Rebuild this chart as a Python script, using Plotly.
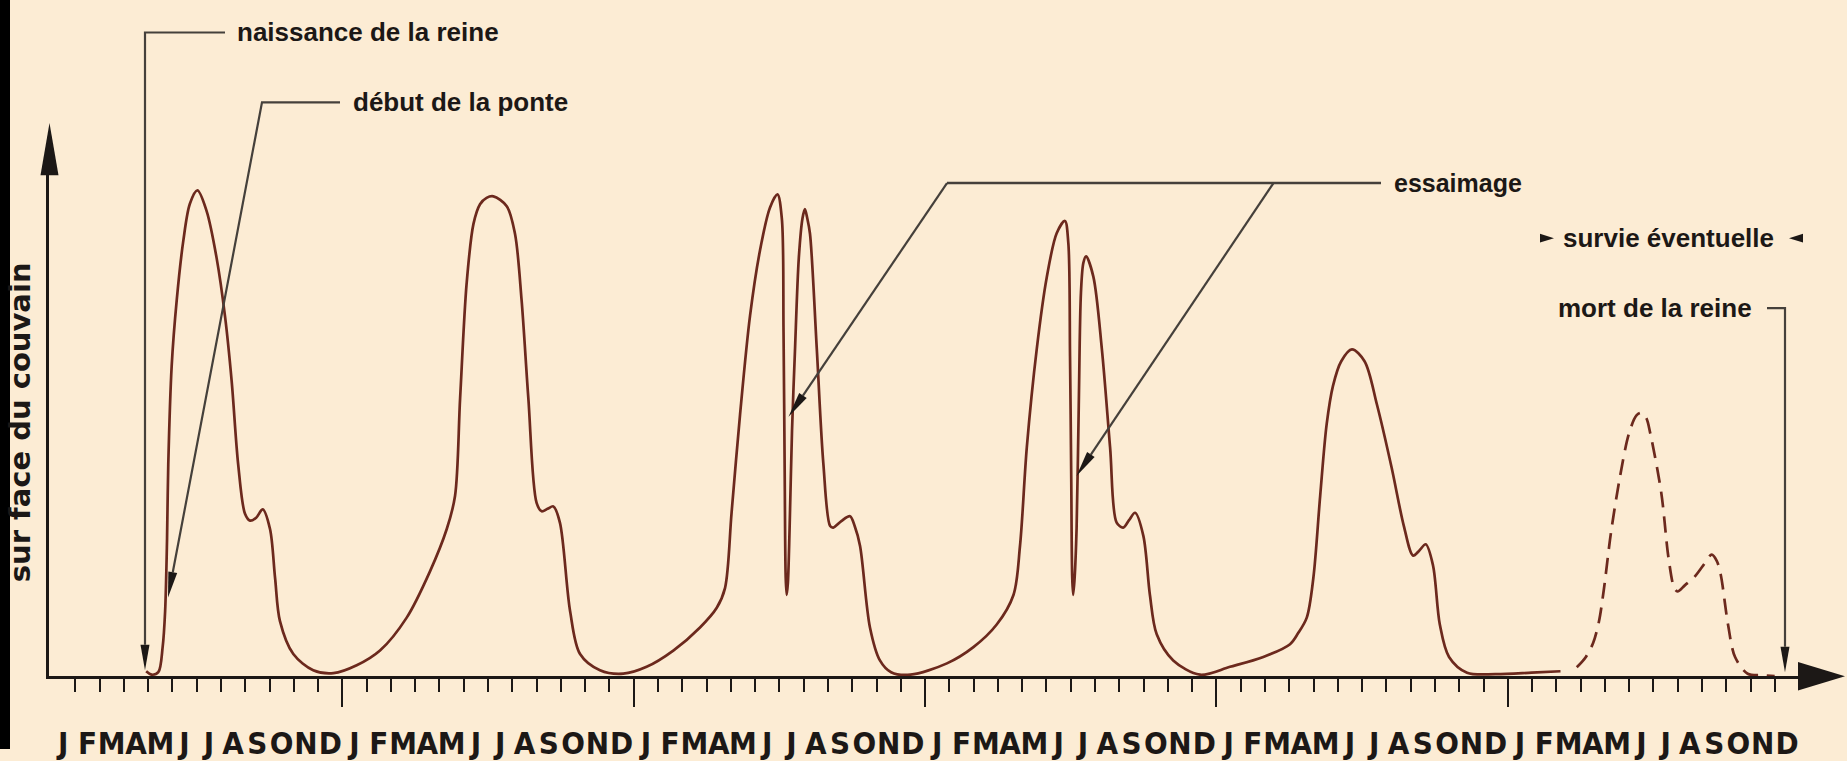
import plotly.graph_objects as go

# ---------------- data ----------------
month_letters = ["J", "F", "M", "A", "M", "J", "J", "A", "S", "O", "N", "D"]
n_years = 6

# brood surface (arbitrary units) vs time in months since Jan of year 1
solid_t = [3.92, 4.15, 4.42, 4.60, 4.70, 4.78, 4.83, 4.97, 5.18, 5.45, 5.72, 6.03, 6.41, 6.82,
           7.17, 7.44, 7.71, 7.99, 8.20, 8.45, 8.72, 9.02, 9.23, 9.43, 9.98, 10.8, 11.63, 12.59,
           13.55, 14.65, 15.6, 16.3, 16.64, 16.85, 17.12, 17.4, 17.67, 17.94, 18.22, 18.77, 19.11,
           19.38, 19.66, 20.0, 20.21, 20.45, 20.69, 20.96, 21.38, 21.79, 22.61, 23.57, 24.53, 25.63,
           26.73, 27.42, 27.76, 28.03, 28.38, 28.79, 29.2, 29.61, 29.92, 30.10, 30.17, 30.22, 30.26,
           30.30, 30.35, 30.42, 30.52, 30.64, 30.80, 30.95, 31.05, 31.15, 31.26, 31.54, 31.81, 32.09,
           32.22, 32.55, 32.91, 33.1, 33.32, 33.73, 34.14, 34.6, 35.4, 36.9, 37.99, 38.95, 39.64,
           39.91, 40.19, 40.6, 41.01, 41.42, 41.76, 41.90, 41.97, 42.02, 42.06, 42.10, 42.16, 42.24,
           42.33, 42.42, 42.52, 42.63, 42.93, 43.28, 43.62, 43.89, 44.16, 44.4, 44.65, 44.99, 45.26,
           45.54, 46.22, 47.32, 48.56, 49.93, 51.03, 51.36, 51.72, 51.99, 52.27, 52.54, 52.8, 53.14,
           53.58, 54.1, 54.61, 55.21, 55.72, 56.1, 56.35, 56.62, 56.92, 57.2, 57.58, 58.32, 59.5,
           60.98, 62.17]
solid_v = [1.0, 0.3, 0.8, 6.0, 13.2, 28.0, 43.0, 63.0, 76.5, 88.5, 96.0, 98.7, 94.5, 85.0,
           73.0, 60.0, 43.0, 33.0, 31.6, 32.2, 33.9, 29.9, 19.9, 11.2, 4.5, 1.2, 0.6, 2.2,
           5.2, 11.9, 21.2, 29.9, 36.6, 56.5, 79.9, 91.9, 95.9, 97.2, 97.5, 95.5, 89.9,
           76.5, 56.5, 35.2, 33.5, 34.0, 34.5, 31.2, 13.2, 4.5, 1.2, 0.5, 1.9, 5.2,
           9.9, 13.9, 17.9, 33.2, 53.2, 73.2, 86.5, 95.2, 97.9, 93.0, 70.0, 40.0, 20.0,
           16.5, 19.0, 30.0, 50.0, 66.0, 85.0, 93.0, 94.9, 93.0, 89.9, 66.5, 43.2, 30.5,
           30.2, 31.5, 32.5, 30.5, 26.5, 9.9, 3.2, 0.8, 0.3, 2.6, 5.9, 10.5, 16.5,
           26.5, 46.5, 66.5, 81.0, 90.0, 92.5, 88.0, 65.0, 40.0, 20.0, 16.5, 20.0, 30.0,
           55.0, 78.0, 84.0, 85.3, 81.2, 66.5, 46.5, 31.2, 30.2, 31.7, 33.2, 28.5, 16.5,
           8.5, 3.2, 0.3, 1.9, 3.9, 6.5, 8.7, 11.9, 19.9, 36.5, 51.2, 59.0, 64.0,
           66.4, 64.0, 55.2, 42.5, 30.5, 24.5, 25.5, 26.8, 22.5, 10.5, 3.9, 0.7, 0.4,
           0.7, 1.0]

# possible survival (dashed)
dash_t = [62.84, 63.2, 63.51, 63.75, 63.95, 64.25, 64.62, 64.99, 65.3, 65.5, 65.7, 65.87, 66.32,
          66.62, 66.85, 66.99, 67.3, 67.66, 68.05, 68.4, 68.6, 68.77, 69.07, 69.36, 69.88, 70.5, 70.99]
dash_v = [1.8, 3.8, 6.7, 11.0, 17.4, 29.2, 40.5, 49.3, 53.0, 53.5, 52.5, 49.3, 37.3,
          24.0, 18.0, 17.2, 18.5, 20.0, 22.5, 24.7, 23.5, 20.6, 10.5, 3.9, 0.5, 0.2, 0.0]

y_title = "sur face du couvain"
lbl_naissance = "naissance de la reine"
lbl_ponte = "début de la ponte"
lbl_essaimage = "essaimage"
lbl_survie = "survie éventuelle"
lbl_mort = "mort de la reine"

# ---------------- geometry / style ----------------
W, H = 1847, 761
BG = "#FCECD4"
INK = "#1c1816"
CURVE = "#6c291d"
LEAD = "#45403b"
X_LEFT, X_RIGHT = 49.0, 1800.0     # pixel extent of x axis line
M0_PX, PX_PER_M = 51.0, 24.28      # pixel of month 0, pixels per month
Y_AXIS, Y_TOP = 687.0, 177.0
PX_PER_V = 5.0

TXT_FONT = "Liberation Sans, Arial, sans-serif"
MONTH_FONT = "DejaVu Sans Condensed, Liberation Sans, Arial, sans-serif"


def P(X, Y):
    return X / W, 1 - Y / H


def path(pts, close=False):
    s = ""
    for i, (X, Y) in enumerate(pts):
        px, py = P(X, Y)
        s += ("M" if i == 0 else " L") + f"{px:.6f},{py:.6f}"
    if close:
        s += " Z"
    return s


def arrow_tri(tail, tip, length=26, half=4.5):
    dx, dy = tip[0] - tail[0], tip[1] - tail[1]
    n = (dx * dx + dy * dy) ** 0.5
    ux, uy = dx / n, dy / n
    bx, by = tip[0] - ux * length, tip[1] - uy * length
    px_, py_ = -uy * half, ux * half
    return [(tip[0], tip[1]), (bx + px_, by + py_), (bx - px_, by - py_)], (bx, by)


fig = go.Figure()

fig.add_trace(go.Scatter(x=solid_t, y=solid_v, mode="lines",
                         line=dict(color=CURVE, width=2.7, shape="spline", smoothing=0.9),
                         hoverinfo="skip", showlegend=False))
fig.add_trace(go.Scatter(x=dash_t, y=dash_v, mode="lines",
                         line=dict(color=CURVE, width=2.7, shape="spline", smoothing=0.9,
                                   dash="16px,9px"),
                         hoverinfo="skip", showlegend=False))
fig.add_trace(go.Scatter(x=[], y=[], xaxis="x2", yaxis="y", hoverinfo="skip", showlegend=False))

n_months = 12 * n_years
x_lo = (X_LEFT - M0_PX) / PX_PER_M
x_hi = (X_RIGHT - M0_PX) / PX_PER_M
year_ticks = [12 * k for k in range(1, n_years)]
month_ticks = [m for m in range(1, n_months) if m % 12 != 0]

shapes = []
annotations = []

# left black border
shapes.append(dict(type="rect", xref="paper", yref="paper", x0=0, x1=10 / W, y0=0, y1=1,
                   fillcolor="black", line=dict(width=0), layer="above"))

# axis arrowheads
shapes.append(dict(type="path", xref="paper", yref="paper",
                   path=path([(49.5, 125), (40.5, Y_TOP + 1), (58.5, Y_TOP + 1)], True),
                   fillcolor=INK, line=dict(width=0)))
shapes.append(dict(type="path", xref="paper", yref="paper",
                   path=path([(1845, Y_AXIS), (X_RIGHT - 2, Y_AXIS - 14.5), (X_RIGHT - 2, Y_AXIS + 14.5)], True),
                   fillcolor=INK, line=dict(width=0)))


def leader(pts, tip_from, tip):
    tri, base = arrow_tri(tip_from, tip)
    shapes.append(dict(type="path", xref="paper", yref="paper",
                       path=path(pts + [base]), line=dict(color=LEAD, width=2.2)))
    shapes.append(dict(type="path", xref="paper", yref="paper",
                       path=path(tri, True), fillcolor=INK, line=dict(width=0)))


def label(text, X, Y, size=26):
    px, py = P(X, Y)
    annotations.append(dict(text=text, x=px, y=py, xref="paper", yref="paper",
                            xanchor="left", yanchor="middle", showarrow=False,
                            borderpad=0,
                            font=dict(family=TXT_FONT, size=size, color=INK, weight="bold")))


# naissance de la reine
leader([(225, 33), (145, 33)], (145, 33), (145, 681))
label(lbl_naissance, 236, 33)
# début de la ponte
leader([(340, 104), (262, 104)], (262, 104), (168, 607))
label(lbl_ponte, 352, 104)
# essaimage
shapes.append(dict(type="path", xref="paper", yref="paper",
                   path=path([(947, 186), (1381, 186)]), line=dict(color=LEAD, width=2.6)))
leader([(947, 186)], (947, 186), (788.5, 423.5))
leader([(1273.5, 186)], (1273.5, 186), (1076.5, 483.5))
label(lbl_essaimage, 1393, 186, size=25)
# survie éventuelle
label(lbl_survie, 1562, 242)
shapes.append(dict(type="path", xref="paper", yref="paper",
                   path=path([(1554, 242), (1540, 237.5), (1540, 246.5)], True),
                   fillcolor=INK, line=dict(width=0)))
shapes.append(dict(type="path", xref="paper", yref="paper",
                   path=path([(1789, 242), (1803, 237.5), (1803, 246.5)], True),
                   fillcolor=INK, line=dict(width=0)))
# mort de la reine
leader([(1767, 313), (1785, 313)], (1785, 313), (1785, 683))
label(lbl_mort, 1557, 313)

# y title
tx, ty = P(20, 429)
annotations.append(dict(text=y_title, x=tx, y=ty, xref="paper", yref="paper",
                        xanchor="center", yanchor="middle", showarrow=False, textangle=-90,
                        borderpad=0,
                        font=dict(family="DejaVu Sans, sans-serif", size=29, color=INK,
                                  weight="bold")))

fig.update_layout(
    width=W, height=H,
    margin=dict(l=0, r=0, t=0, b=0),
    paper_bgcolor=BG, plot_bgcolor=BG,
    showlegend=False,
    xaxis=dict(domain=[X_LEFT / W, X_RIGHT / W], range=[x_lo, x_hi],
               showgrid=False, zeroline=False,
               showline=True, linecolor=INK, linewidth=3,
               tickmode="array", tickvals=year_ticks, ticks="outside", ticklen=28,
               tickwidth=2, tickcolor=INK, showticklabels=False,
               minor=dict(tickmode="array", tickvals=month_ticks, ticks="outside",
                          ticklen=13, tickwidth=2, tickcolor=INK, showgrid=False)),
    xaxis2=dict(overlaying="x", matches="x", anchor="y", side="bottom",
                showgrid=False, zeroline=False, showline=False, ticks="",
                tickmode="array", tickvals=[m + 0.5 for m in range(n_months)],
                ticktext=month_letters * n_years, tickangle=0,
                tickfont=dict(family=MONTH_FONT, size=31, color=INK, weight="bold"),
                ticklabelstandoff=46),
    yaxis=dict(domain=[(H - Y_AXIS) / H, (H - Y_TOP) / H],
               range=[0, (Y_AXIS - Y_TOP) / PX_PER_V],
               showgrid=False, zeroline=False, showticklabels=False, ticks="",
               showline=True, linecolor=INK, linewidth=2.5),
    shapes=shapes,
    annotations=annotations,
)

post = ("document.documentElement.style.margin='0';document.body.style.margin='0';"
        "document.body.style.padding='0';document.body.style.overflow='hidden';"
        "var gd=document.getElementById('{plot_id}');gd.style.position='fixed';"
        "gd.style.left='0px';gd.style.top='0px';")
fig.write_html("out.html", config={"displayModeBar": False}, post_script=post)
